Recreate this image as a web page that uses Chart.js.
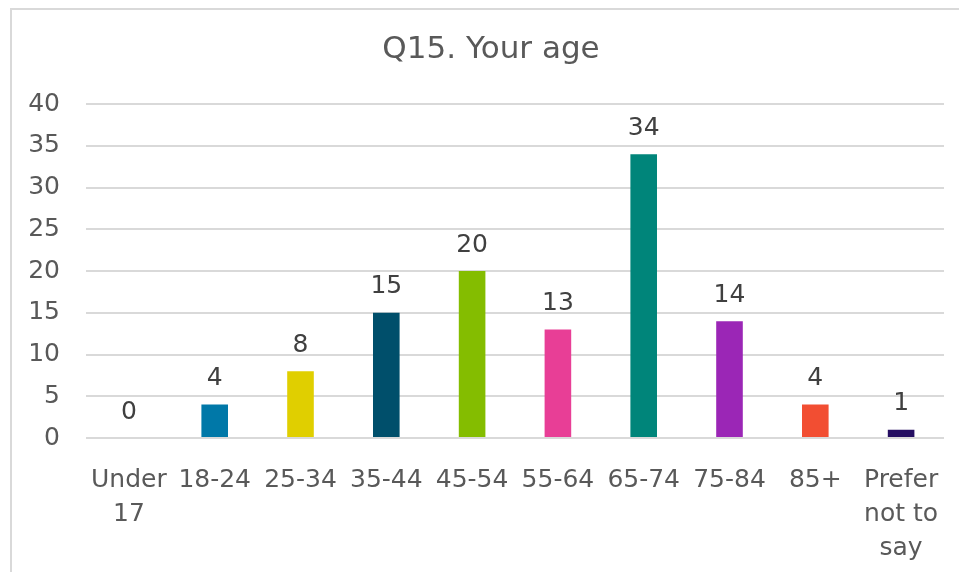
<!DOCTYPE html>
<html>
<head>
<meta charset="utf-8">
<script src="https://cdn.jsdelivr.net/npm/chart.js@4.4.1/dist/chart.umd.min.js"></script>
<style>
  html, body { margin: 0; padding: 0; background: #fff; }
  #wrap { width: 959px; height: 572px; }
</style>
</head>
<body>
<div id="wrap"><canvas id="myChart" width="959" height="572"></canvas></div>
<script>
// age groups and counts
var ageGroups = [["Under", "17"], "18-24", "25-34", "35-44", "45-54", "55-64", "65-74", "75-84", "85+", ["Prefer", "not to", "say"]];
var counts = [0, 4, 8, 15, 20, 13, 34, 14, 4, 1];
var barColours = ["#a5a5a5", "#0078a8", "#e0cf00", "#004f6b", "#84bd00", "#e83e96", "#00857a", "#9b26b6", "#f24e32", "#250e62"];
var yTicks = [0, 5, 10, 15, 20, 25, 30, 35, 40];

var fontName = "'DejaVu Sans', Verdana, sans-serif";

// value labels above each bar
var barLabels = {
    id: 'barLabels',
    afterDatasetsDraw: function (chart) {
        var c = chart.ctx;
        var meta = chart.getDatasetMeta(0);
        c.save();
        c.font = "25px " + fontName;
        c.fillStyle = "#404040";
        c.textAlign = "center";
        c.textBaseline = "middle";
        meta.data.forEach(function (bar, i) {
            c.fillText(String(counts[i]), bar.x, bar.y - 26);
        });
        c.restore();
    }
};

// thin frame on top and left like the original screenshot
var frame = {
    id: 'frame',
    beforeDraw: function (chart) {
        var c = chart.ctx;
        c.save();
        c.fillStyle = "#d9d9d9";
        c.fillRect(10, 8, chart.width - 10, 2);
        c.fillRect(10, 8, 2, chart.height - 8);
        c.restore();
    }
};

// the original title sits a little right of the canvas centre
var nudgeTitle = {
    id: 'nudgeTitle',
    afterLayout: function (chart) {
        if (chart.titleBlock) chart.titleBlock.left += 28;
    }
};

var ctx = document.getElementById('myChart').getContext('2d');
var chart = new Chart(ctx, {
    type: 'bar',
    data: {
        labels: ageGroups,
        datasets: [{
            label: 'Q15',
            data: counts,
            backgroundColor: barColours,
            borderWidth: 0,
            categoryPercentage: 1.0,
            barPercentage: 0.31
        }]
    },
    options: {
        responsive: false,
        animation: false,
        layout: { padding: { left: 10, right: 15, top: 0, bottom: 0 } },
        plugins: {
            legend: { display: false },
            tooltip: { enabled: false },
            title: {
                display: true,
                text: 'Q15. Your age',
                color: '#595959',
                font: { family: fontName, size: 31, weight: 'normal', lineHeight: 1.2 },
                padding: { top: 31, bottom: 36 }
            }
        },
        scales: {
            x: {
                grid: { display: false },
                border: { display: false },
                ticks: {
                    color: '#595959',
                    font: { family: fontName, size: 25, lineHeight: 1.36 },
                    padding: 17,
                    maxRotation: 0,
                    autoSkip: false
                },
                afterFit: function (scale) { scale.height = 134; }
            },
            y: {
                min: 0,
                max: 40,
                afterBuildTicks: function (scale) {
                    scale.ticks = yTicks.map(function (v) { return { value: v }; });
                },
                grid: { color: '#d9d9d9', lineWidth: 2, drawTicks: false },
                border: { display: false },
                ticks: {
                    color: '#595959',
                    font: { family: fontName, size: 25 },
                    padding: 26
                },
                afterFit: function (scale) { scale.width = 76; }
            }
        }
    },
    plugins: [frame, nudgeTitle, barLabels]
});
</script>
</body>
</html>
